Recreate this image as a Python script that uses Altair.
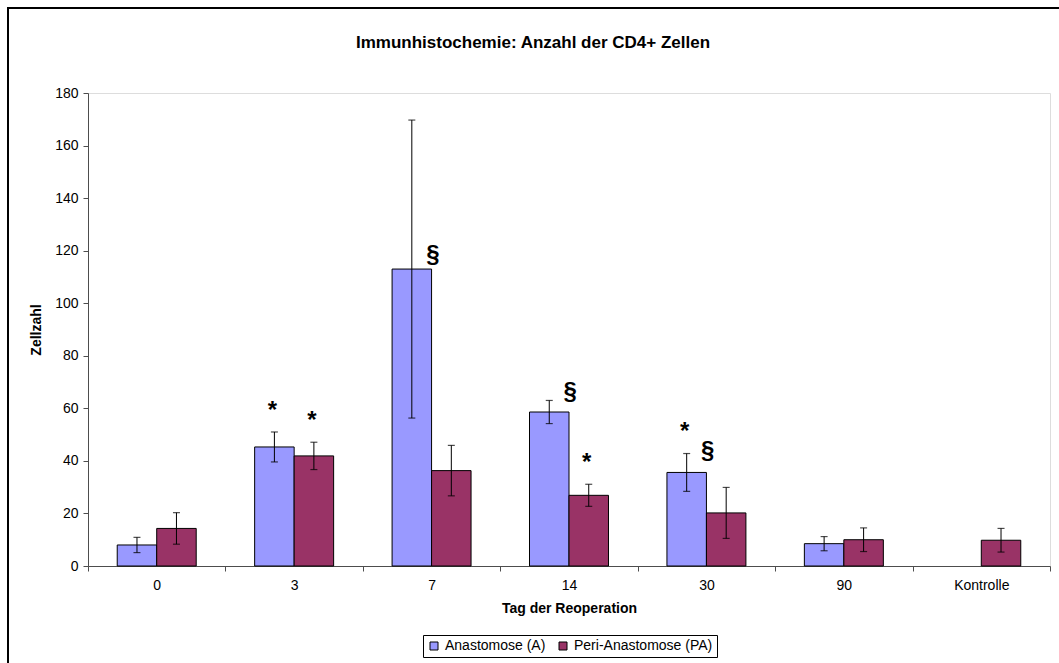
import altair as alt
import pandas as pd

cats = ["0", "3", "7", "14", "30", "90", "Kontrolle"]
groups = ["Anastomose (A)", "Peri-Anastomose (PA)"]
a_mean = [8.0, 45.3, 113.0, 58.6, 35.6, 8.5, None]
a_err = [2.9, 5.7, 56.7, 4.4, 7.2, 2.7, None]
pa_mean = [14.3, 41.9, 36.3, 26.9, 20.2, 10.0, 9.8]
pa_err = [6.0, 5.2, 9.6, 4.2, 9.7, 4.5, 4.5]

star_cat = ["3", "3", "14", "30"]
star_grp = ["Anastomose (A)", "Peri-Anastomose (PA)", "Peri-Anastomose (PA)", "Anastomose (A)"]
star_y = [60.9, 57.1, 41.1, 52.9]
sec_cat = ["7", "14", "30"]
sec_grp = ["Anastomose (A)", "Anastomose (A)", "Anastomose (A)"]
sec_y = [118.3, 66.2, 43.8]

rows = []
for c, m, e in zip(cats, a_mean, a_err):
    if m is not None:
        rows.append({"cat": c, "grp": groups[0], "mean": m, "lo": m - e, "hi": m + e})
for c, m, e in zip(cats, pa_mean, pa_err):
    rows.append({"cat": c, "grp": groups[1], "mean": m, "lo": m - e, "hi": m + e})
df = pd.DataFrame(rows)
stars = pd.DataFrame({"cat": star_cat, "grp": star_grp, "y": star_y, "s": ["*"] * len(star_cat)})
secs = pd.DataFrame({"cat": sec_cat, "grp": sec_grp, "y": sec_y, "s": ["§"] * len(sec_cat)})

FONT = "Liberation Sans"
AX = "#4d4d4d"
W, H = 962, 473

xenc = alt.X("cat:N", sort=cats, scale=alt.Scale(domain=cats, paddingInner=0, paddingOuter=0),
             axis=alt.Axis(title="Tag der Reoperation", labelAngle=0, tickBand="extent",
                           tickSize=5, labelPadding=7, titlePadding=9,
                           titleFontWeight="bold", titleFontSize=14, labelFontSize=14,
                           domainColor=AX, tickColor=AX, labelColor="black",
                           titleColor="black", labelFont=FONT, titleFont=FONT))
xoff = alt.XOffset("grp:N", scale=alt.Scale(domain=groups, paddingInner=0, paddingOuter=0.74))
yscale = alt.Scale(domain=[0, 180], nice=False)

bars = alt.Chart(df).mark_bar(stroke="black", strokeWidth=1).encode(
    x=xenc, xOffset=xoff,
    y=alt.Y("mean:Q", scale=yscale,
            axis=alt.Axis(title="Zellzahl", values=list(range(0, 181, 20)), grid=False,
                          tickSize=5, labelPadding=5, titlePadding=11,
                          titleFontWeight="bold", titleFontSize=14, labelFontSize=14,
                          domainColor=AX, tickColor=AX, labelColor="black",
                          titleColor="black", labelFont=FONT, titleFont=FONT)),
    color=alt.Color("grp:N", scale=alt.Scale(domain=groups, range=["#9999FF", "#993366"]),
                    legend=alt.Legend(title=None, orient="none", legendX=335, legendY=542,
                                      direction="horizontal", symbolType="square",
                                      symbolSize=64, symbolStrokeColor="black",
                                      symbolStrokeWidth=1, symbolOpacity=1,
                                      labelFontSize=14, labelFont=FONT, labelColor="black",
                                      strokeColor="black", padding=4, columnPadding=10,
                                      symbolOffset=0, labelOffset=4)),
)
rules = alt.Chart(df).mark_rule(color="black", strokeWidth=1).encode(
    x=xenc, xOffset=xoff, y=alt.Y("lo:Q", scale=yscale), y2="hi:Q")
cap_lo = alt.Chart(df).mark_tick(color="black", size=7, thickness=1.2).encode(
    x=xenc, xOffset=xoff, y=alt.Y("lo:Q", scale=yscale))
cap_hi = alt.Chart(df).mark_tick(color="black", size=7, thickness=1.2).encode(
    x=xenc, xOffset=xoff, y=alt.Y("hi:Q", scale=yscale))
star_txt = alt.Chart(stars).mark_text(font=FONT, fontWeight="bold", fontSize=24,
                                      baseline="middle", dx=-2, dy=5, color="black").encode(
    x=xenc, xOffset=xoff, y=alt.Y("y:Q", scale=yscale), text="s:N")
sec_txt = alt.Chart(secs).mark_text(font=FONT, fontWeight="bold", fontSize=24,
                                    baseline="middle", dx=21, color="black").encode(
    x=xenc, xOffset=xoff, y=alt.Y("y:Q", scale=yscale), text="s:N")
frame = alt.Chart(pd.DataFrame({"k": [0]})).mark_rect(fill=None, stroke="black", strokeWidth=2).encode(
    x=alt.value(-80), x2=alt.value(1010), y=alt.value(-85), y2=alt.value(600))

chart = alt.layer(bars, rules, cap_lo, cap_hi, star_txt, sec_txt, frame).properties(
    width=W, height=H,
    title=alt.Title("Immunhistochemie: Anzahl der CD4+ Zellen", font=FONT, fontSize=17,
                    fontWeight="bold", color="black", anchor="middle", dx=-36, offset=0, dy=45),
    autosize="none",
    padding={"left": 88, "top": 93, "right": 9, "bottom": 97},
).configure_view(stroke=None).configure(background="white")

chart.save("out.html", embed_options={"renderer": "svg", "actions": False})
